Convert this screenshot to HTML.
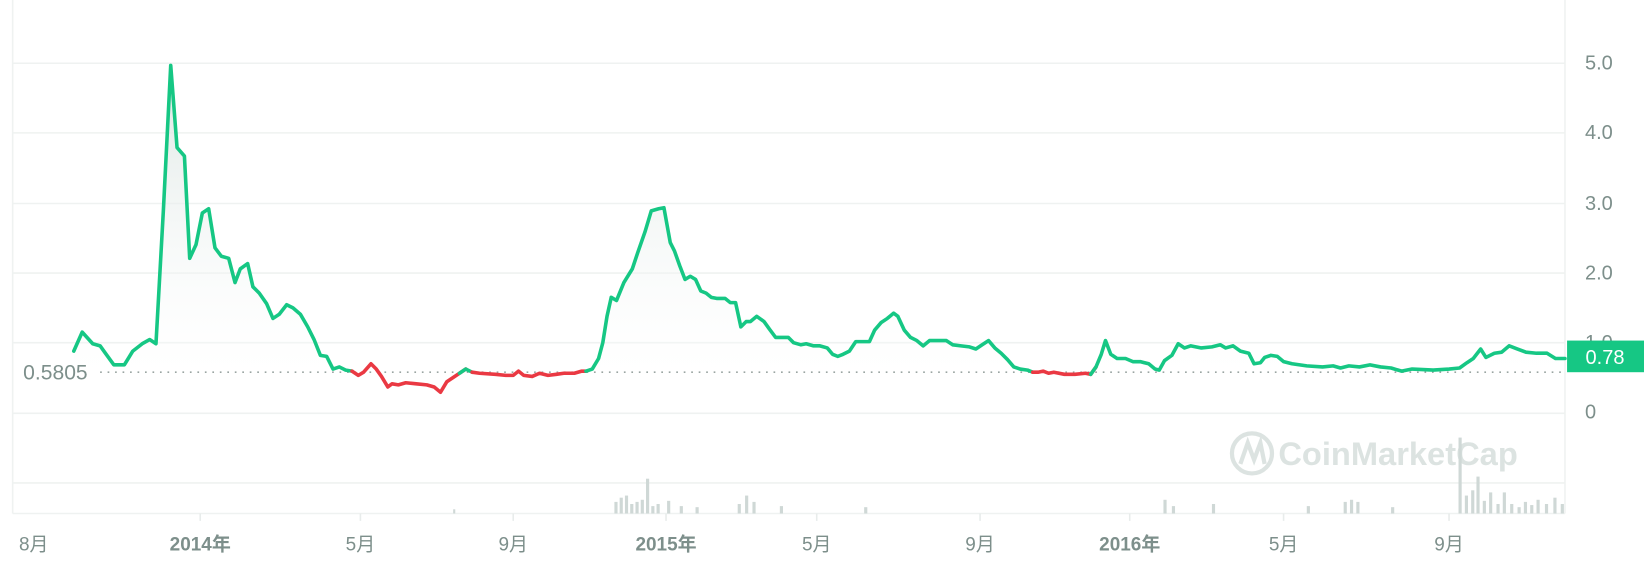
<!DOCTYPE html><html><head><meta charset="utf-8"><style>html,body{margin:0;padding:0;background:#fff;}svg{display:block}</style></head><body>
<svg width="1644" height="562" viewBox="0 0 1560 533" preserveAspectRatio="none" xmlns="http://www.w3.org/2000/svg" font-family="Liberation Sans, Noto Sans CJK SC, sans-serif">
<defs>
<linearGradient id="g" x1="0" y1="0" x2="0" y2="1"><stop offset="0" stop-color="#d9e3e0" stop-opacity="0.9"/><stop offset="1" stop-color="#ffffff" stop-opacity="0.2"/></linearGradient>
<clipPath id="ab"><rect x="0" y="0" width="1485" height="353"/></clipPath>
</defs>
<g stroke="#eff2f1" stroke-width="1.5">
<line x1="12" y1="60" x2="1485" y2="60"/><line x1="12" y1="126" x2="1485" y2="126"/><line x1="12" y1="193" x2="1485" y2="193"/><line x1="12" y1="259" x2="1485" y2="259"/><line x1="12" y1="325" x2="1485" y2="325"/><line x1="12" y1="392" x2="1485" y2="392"/><line x1="12" y1="458" x2="1485" y2="458"/><line x1="12" y1="487" x2="1485" y2="487"/>
<line x1="12" y1="0" x2="12" y2="487"/><line x1="1485" y1="0" x2="1485" y2="487"/>
</g>
<g fill="#dce3e1" font-size="31" font-weight="bold"><circle cx="1188" cy="430" r="19" fill="none" stroke="#dce3e1" stroke-width="4"/><path d="M1177 440 L1184 420 L1190 436 L1196 420 L1200 440" fill="none" stroke="#dce3e1" stroke-width="4"/><text x="1213" y="441">CoinMarketCap</text></g>
<g fill="#cfd8d6">
<rect x="430" y="483" width="2" height="4"/>
<rect x="583" y="476" width="3" height="11"/><rect x="588" y="472" width="3" height="15"/><rect x="593" y="470" width="3" height="17"/><rect x="598" y="478" width="3" height="9"/><rect x="603" y="476" width="3" height="11"/><rect x="608" y="474" width="3" height="13"/><rect x="613" y="454" width="3" height="33"/><rect x="618" y="480" width="3" height="7"/><rect x="623" y="478" width="3" height="9"/><rect x="633" y="475" width="3" height="12"/><rect x="645" y="480" width="3" height="7"/><rect x="660" y="481" width="3" height="6"/><rect x="700" y="478" width="3" height="9"/><rect x="707" y="470" width="3" height="17"/><rect x="714" y="476" width="3" height="11"/><rect x="740" y="480" width="3" height="7"/><rect x="820" y="481" width="3" height="6"/>
<rect x="1104" y="474" width="3" height="13"/><rect x="1112" y="480" width="3" height="7"/><rect x="1150" y="478" width="3" height="9"/><rect x="1240" y="480" width="3" height="7"/><rect x="1275" y="476" width="3" height="11"/><rect x="1281" y="474" width="3" height="13"/><rect x="1287" y="476" width="3" height="11"/><rect x="1320" y="481" width="3" height="6"/>
<rect x="1384" y="415" width="3" height="72"/><rect x="1390" y="470" width="3" height="17"/><rect x="1396" y="465" width="3" height="22"/><rect x="1401" y="452" width="3" height="35"/><rect x="1407" y="475" width="3" height="12"/><rect x="1413" y="467" width="3" height="20"/><rect x="1420" y="478" width="3" height="9"/><rect x="1426" y="467" width="3" height="20"/><rect x="1433" y="478" width="3" height="9"/><rect x="1440" y="481" width="3" height="6"/><rect x="1446" y="476" width="3" height="11"/><rect x="1452" y="479" width="3" height="8"/><rect x="1458" y="474" width="3" height="13"/><rect x="1466" y="478" width="3" height="9"/><rect x="1474" y="472" width="3" height="15"/><rect x="1481" y="478" width="3" height="9"/>
</g>
<polygon clip-path="url(#ab)" fill="url(#g)" points="70,353 70,333 78,315 88,326 95,328 100,335 108,346 118,346 126,333 135,326 142,322 148,326 155,200 162,62 168,140 175,148 180,245 186,232 192,202 198,198 204,235 210,243 217,245 223,268 228,255 235,250 240,272 246,278 253,288 259,302 265,298 272,289 278,292 285,298 292,310 298,322 304,337 310,338 316,350 322,348 328,351 334,352 340,356 345,353 352,345 357,350 362,357 556,352 562,350 568,340 572,325 576,300 580,282 585,285 592,268 600,255 605,240 612,220 618,200 625,198 630,197 636,230 640,238 645,252 650,265 655,262 660,265 665,276 670,278 675,282 680,283 688,283 693,287 698,287 703,310 708,305 712,305 718,300 725,305 730,312 736,320 742,320 748,320 753,325 760,327 765,326 772,328 778,328 785,330 790,336 795,338 800,336 806,333 812,324 818,324 825,324 830,313 836,306 842,302 848,297 852,300 858,313 864,320 870,323 876,328 882,323 890,323 898,323 904,327 912,328 920,329 926,331 932,327 938,323 944,330 950,335 956,341 962,348 968,350 975,351 980,353 1040,348 1045,336 1049,323 1054,336 1060,340 1068,340 1075,343 1082,343 1090,345 1096,350 1100,351 1105,342 1112,337 1118,326 1124,330 1130,328 1140,330 1150,329 1158,327 1163,330 1170,328 1177,333 1185,335 1190,345 1196,344 1200,339 1206,337 1212,338 1218,343 1226,345 1240,347 1255,348 1265,347 1272,349 1280,347 1290,348 1300,346 1310,348 1320,349 1330,352 1340,350 1360,351 1375,350 1385,349 1392,344 1398,340 1405,331 1410,339 1418,335 1425,334 1432,328 1440,331 1448,334 1458,335 1468,335 1476,340 1485,340 1485,353"/>
<line x1="95" y1="353" x2="1485" y2="353" stroke="#9aa5a2" stroke-width="1.6" stroke-dasharray="1.6 5.5"/>
<g fill="none" stroke-width="3.4" stroke-linejoin="round" stroke-linecap="round">
<polyline stroke="#16c784" points="70,333 78,315 88,326 95,328 100,335 108,346 118,346 126,333 135,326 142,322 148,326 155,200 162,62 168,140 175,148 180,245 186,232 192,202 198,198 204,235 210,243 217,245 223,268 228,255 235,250 240,272 246,278 253,288 259,302 265,298 272,289 278,292 285,298 292,310 298,322 304,337 310,338 316,350 322,348 328,351 334,352"/>
<polyline stroke="#ea3943" points="334,352 340,356 345,353 352,345 357,350 362,357 368,367 372,364 378,365 385,363 395,364 405,365 412,367 418,372 424,362 430,358 436,354 442,350"/>
<polyline stroke="#16c784" points="436,354 442,350 448,353"/>
<polyline stroke="#ea3943" points="448,353 455,354 470,355 480,356 487,356 492,352 497,356 505,357 512,354 520,356 528,355 535,354 545,354 552,352 556,352"/>
<polyline stroke="#16c784" points="556,352 562,350 568,340 572,325 576,300 580,282 585,285 592,268 600,255 605,240 612,220 618,200 625,198 630,197 636,230 640,238 645,252 650,265 655,262 660,265 665,276 670,278 675,282 680,283 688,283 693,287 698,287 703,310 708,305 712,305 718,300 725,305 730,312 736,320 742,320 748,320 753,325 760,327 765,326 772,328 778,328 785,330 790,336 795,338 800,336 806,333 812,324 818,324 825,324 830,313 836,306 842,302 848,297 852,300 858,313 864,320 870,323 876,328 882,323 890,323 898,323 904,327 912,328 920,329 926,331 932,327 938,323 944,330 950,335 956,341 962,348 968,350 975,351 980,353"/>
<polyline stroke="#ea3943" points="980,353 985,353 990,352 995,354 1000,353 1010,355 1020,355 1030,354 1035,355 1040,348"/>
<polyline stroke="#16c784" points="1035,355 1040,348 1045,336 1049,323 1054,336 1060,340 1068,340 1075,343 1082,343 1090,345 1096,350 1100,351 1105,342 1112,337 1118,326 1124,330 1130,328 1140,330 1150,329 1158,327 1163,330 1170,328 1177,333 1185,335 1190,345 1196,344 1200,339 1206,337 1212,338 1218,343 1226,345 1240,347 1255,348 1265,347 1272,349 1280,347 1290,348 1300,346 1310,348 1320,349 1330,352 1340,350 1360,351 1375,350 1385,349 1392,344 1398,340 1405,331 1410,339 1418,335 1425,334 1432,328 1440,331 1448,334 1458,335 1468,335 1476,340 1485,340"/>
</g>
<g fill="#7d8f8b" font-size="19">
<text x="1504" y="66">5.0</text><text x="1504" y="132">4.0</text><text x="1504" y="199">3.0</text><text x="1504" y="265">2.0</text><text x="1504" y="331">1.0</text><text x="1504" y="397">0</text>
<text x="22" y="360" font-size="20">0.5805</text>
</g>
<rect x="1487" y="323" width="73" height="30" fill="#16c784"/>
<text x="1523" y="345" fill="#fff" font-size="19" text-anchor="middle">0.78</text>
<g stroke="#e8eceb" stroke-width="1.5">
<line x1="190" y1="487" x2="190" y2="494"/><line x1="342" y1="487" x2="342" y2="494"/><line x1="487" y1="487" x2="487" y2="494"/><line x1="632" y1="487" x2="632" y2="494"/><line x1="775" y1="487" x2="775" y2="494"/><line x1="930" y1="487" x2="930" y2="494"/><line x1="1072" y1="487" x2="1072" y2="494"/><line x1="1218" y1="487" x2="1218" y2="494"/><line x1="1375" y1="487" x2="1375" y2="494"/>
</g>
<g fill="#7d8f8b" font-size="18" text-anchor="middle">
<text x="32" y="522">8月</text><text x="190" y="522" font-weight="bold">2014年</text><text x="342" y="522">5月</text><text x="487" y="522">9月</text><text x="632" y="522" font-weight="bold">2015年</text><text x="775" y="522">5月</text><text x="930" y="522">9月</text><text x="1072" y="522" font-weight="bold">2016年</text><text x="1218" y="522">5月</text><text x="1375" y="522">9月</text>
</g>
</svg>
</body></html>
